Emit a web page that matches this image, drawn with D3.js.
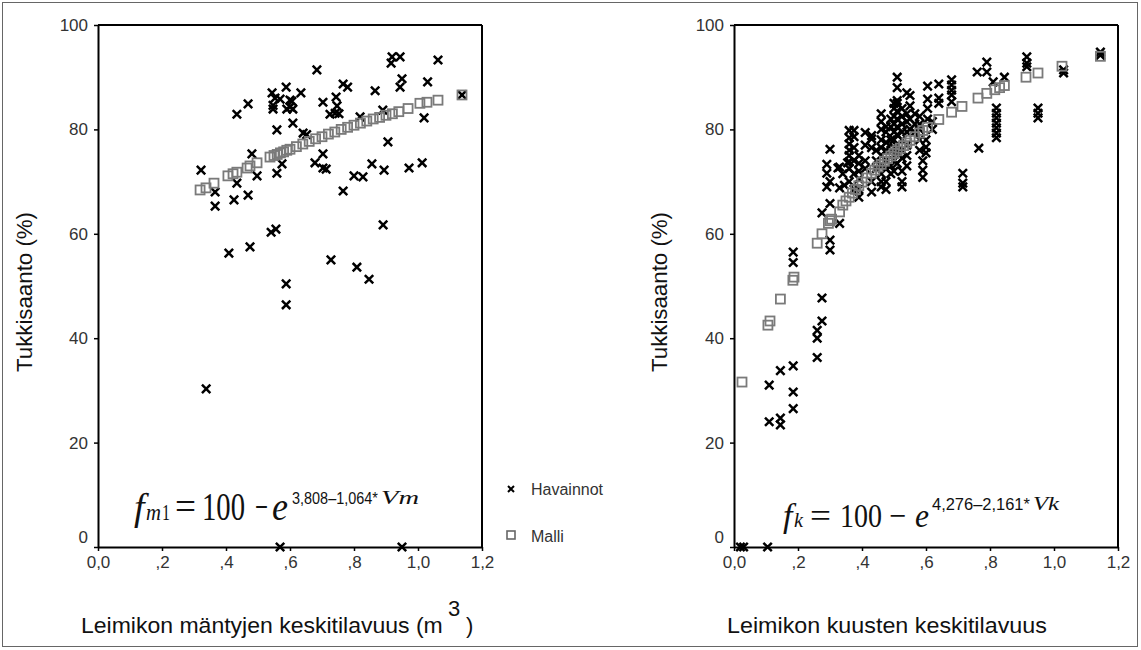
<!DOCTYPE html>
<html><head><meta charset="utf-8">
<script src="https://cdn.jsdelivr.net/npm/d3@7"></script>
<style>body{margin:0;background:#fff}</style></head>
<body><svg id="c" width="1141" height="650" xmlns="http://www.w3.org/2000/svg"></svg>
<script>
const xTicks=[0,0.2,0.4,0.6,0.8,1.0,1.2];
const xTickLabels=["0,0",",2",",4",",6",",8","1,0","1,2"];
const yTicks=[0,20,40,60,80,100];
const yTickLabels=["0","20","40","60","80","100"];
const legendLabels=["Havainnot","Malli"];
const yTitle="Tukkisaanto (%)";
const xTitleLeft="Leimikon mäntyjen keskitilavuus (m";
const xTitleRight="Leimikon kuusten keskitilavuus";

// Pine (mänty) observations [volume, yield %]
const pineObs=[
[0.919,93.9],[0.944,93.9],[0.916,92.7],[1.0625,93.3],[0.684,91.4],[0.95,89.7],[1.03,89.1],[0.944,88.1],
[0.766,88.7],[0.78,88.1],[0.866,87.4],[0.588,88.1],[0.544,87.0],[0.634,87.0],[0.553,86.0],[0.569,85.8],
[0.606,85.4],[0.703,85.2],[0.744,86.2],[0.469,84.9],[0.434,82.9],[0.547,84.6],[0.547,83.9],[0.59,83.9],
[0.609,83.9],[0.6,84.3],[0.6,85.6],[0.747,84.5],[0.753,83.0],[0.725,82.9],[0.741,83.1],[1.019,82.2],[0.609,81.2],
[0.559,79.9],[0.641,79.3],[0.652,79.0],[0.819,82.4],[0.89,83.7],[0.906,77.6],[0.481,75.3],[0.703,75.3],
[0.575,73.4],[0.678,73.6],[0.703,72.6],[0.713,72.4],[0.856,73.4],[0.894,72.2],[0.972,72.6],[1.013,73.6],
[0.8,71.1],[0.828,70.9],[0.322,72.2],[0.497,71.1],[0.559,71.6],[0.434,69.7],[0.366,68.0],[0.469,67.4],
[0.425,66.5],[0.766,68.2],[0.366,65.3],[0.541,60.3],[0.556,60.9],[0.891,61.7],[0.409,56.3],[0.475,57.5],
[0.728,55.0],[0.809,53.6],[0.847,51.3],[0.588,50.4],[0.588,46.4],[0.338,30.3],[0.569,0],[0.95,0],[1.1375,86.6]
];
// Pine model values
const pineModel=[
[0.319,68.4],[0.3375,68.8],[0.3625,69.7],[0.406,71.1],[0.422,71.5],[0.434,71.8],[0.466,72.6],[0.475,73.0],
[0.497,73.6],[0.5375,74.7],[0.55,75.0],[0.56,75.2],[0.57,75.5],[0.58,75.7],[0.59,76.0],[0.60,76.2],
[0.62,76.7],[0.64,77.2],[0.66,77.7],[0.68,78.2],[0.70,78.6],[0.72,79.1],[0.74,79.5],[0.76,80.0],
[0.78,80.4],[0.80,80.8],[0.82,81.2],[0.84,81.6],[0.86,82.0],[0.88,82.3],[0.90,82.7],[0.92,83.0],
[0.94,83.4],[0.969,84.0],[1.006,85.0],[1.028,85.2],[1.0625,85.6],[1.1375,86.6]
];
// Spruce (kuusi) observations
const spruceObs=[
[0.02,0],[0.03,0],[0.105,0],[0.11,31],[0.11,24],[0.145,24.7],[0.145,23.4],[0.145,33.8],[0.185,34.7],
[0.185,29.7],[0.185,26.5],[0.26,41.5],[0.26,40],[0.26,36.3],[0.275,47.7],[0.275,43.3],[0.185,56.5],[0.185,54.5],
[0.3,58.8],[0.3,56.9],[0.33,62],[0.275,64],[0.3,65.8],[0.29,69],[0.3,70],[0.29,71.6],[0.29,73.3],[0.3,76.2],
[0.325,72.6],[0.34,71.5],[0.33,68.8],[0.345,69.3],[0.355,73.6],[0.33,72.8],
[0.36,79.8],[0.36,78.4],[0.36,77.2],[0.36,76],[0.36,75],[0.36,73.8],[0.36,72.5],[0.36,70],
[0.375,79.8],[0.375,78.6],[0.375,76.5],[0.375,74],[0.375,71.5],[0.375,68.5],
[0.39,75],[0.39,73.5],[0.39,72],[0.39,70.5],[0.39,68.5],[0.39,67],
[0.41,79.4],[0.41,77],[0.41,74],[0.41,72.5],
[0.43,78.8],[0.43,78.2],[0.43,76.5],[0.43,70],[0.43,68],
[0.445,76],[0.445,74],[0.445,72.5],
[0.46,83],[0.46,81.5],[0.46,80],[0.46,78],[0.46,76.5],[0.46,75],[0.46,73],[0.46,71.5],[0.46,70],[0.46,69],
[0.475,80.5],[0.475,79.5],[0.475,77.5],[0.475,76],[0.475,74],[0.475,72.5],[0.475,70],[0.475,68.5],
[0.49,82],[0.49,80.5],[0.49,78],[0.49,76],[0.49,73],[0.49,71.5],
[0.5,85],[0.5,84],[0.5,82.5],[0.5,81],[0.5,79.5],[0.5,78],[0.5,76.5],[0.5,74],[0.5,72],
[0.51,90],[0.51,88],[0.51,85.5],[0.51,85],[0.51,83.5],[0.51,82],[0.51,80.5],[0.51,79],[0.51,77],[0.51,75.5],[0.51,73.5],
[0.525,84],[0.525,82.5],[0.525,81],[0.525,79.5],[0.525,78],[0.525,76],[0.525,74.5],[0.525,72],[0.525,70],[0.525,69],
[0.54,87],[0.54,83],[0.54,81.5],[0.54,79.5],[0.54,77],[0.54,75],[0.54,73],
[0.55,86.5],[0.55,84.5],[0.55,82],[0.55,80],
[0.565,83],[0.565,81],[0.565,79.5],
[0.58,82.5],[0.58,81],[0.58,80],[0.58,78],[0.58,76],
[0.59,74],[0.59,72.2],[0.59,70.8],[0.6,78],[0.6,76.6],[0.6,75.5],
[0.605,88.3],[0.605,85.8],[0.605,84],[0.605,82],[0.62,81.5],[0.62,80],
[0.64,88.7],[0.64,86],[0.64,85],
[0.68,89.5],[0.68,88.5],[0.68,87.5],[0.68,86.6],[0.68,85.3],
[0.715,71.6],[0.715,69.7],[0.715,69],[0.765,76.4],
[0.76,91],[0.79,91],[0.79,92.9],[0.81,89.1],[0.845,90],
[0.82,84.1],[0.82,83.1],[0.82,82.2],[0.82,81.2],[0.82,80.3],[0.82,79.3],[0.82,78.4],
[0.915,93.9],[0.915,92.7],[0.915,92.0],[0.95,84.1],[0.95,83.1],[0.95,82.2],
[1.03,90.8],[1.03,91.4],[1.145,94.8],[1.145,94.2]
];
// Spruce model values
const spruceModel=[
[0.025,31.6],[0.106,42.5],[0.1125,43.3],[0.145,47.5],[0.184,51.1],[0.1875,51.7],[0.26,58.2],[0.275,60],
[0.295,62],[0.3,62.5],[0.305,62.8],[0.33,64.2],[0.34,65.5],[0.35,66.3],[0.36,67],[0.37,67.8],[0.38,68.5],
[0.39,69.2],[0.4,69.9],[0.415,70.7],[0.43,71.6],[0.44,72.2],[0.45,72.8],[0.46,73.3],[0.47,73.9],[0.48,74.4],
[0.49,74.9],[0.5,75.4],[0.51,75.9],[0.52,76.4],[0.53,76.9],[0.54,77.4],[0.55,77.9],[0.565,78.6],[0.58,79.3],
[0.59,79.8],[0.605,80.4],[0.64,81.9],[0.68,83.3],[0.7125,84.4],[0.7625,86],[0.79,86.9],[0.815,87.6],
[0.83,88],[0.845,88.4],[0.9125,90],[0.95,90.8],[1.025,92.1],[1.145,94]
];

const svg=d3.select("#c");
const SANS="'Liberation Sans', Arial, sans-serif";
const SERIF="'Liberation Serif', 'Times New Roman', serif";
svg.append("rect").attr("x",2.5).attr("y",2.5).attr("width",1135).attr("height",644)
  .attr("fill","#fff").attr("stroke","#666").attr("stroke-width",1);

const crossPath="M-4.2,-4.2L4.2,4.2M-4.2,4.2L4.2,-4.2";

function panel(x0,x1,obs,model){
  const x=d3.scaleLinear().domain([0,1.2]).range([x0,x1]);
  const y=d3.scaleLinear().domain([0,100]).range([547,25]);
  const g=svg.append("g");
  g.append("line").attr("x1",x0).attr("x2",x1).attr("y1",y(100)).attr("y2",y(100)).attr("stroke","#000").attr("stroke-width",2);
  g.append("line").attr("x1",x1).attr("x2",x1).attr("y1",y(100)).attr("y2",y(0)).attr("stroke","#000").attr("stroke-width",2);
  const ya=g.append("g").attr("transform",`translate(${x0},0)`)
    .call(d3.axisLeft(y).tickValues(yTicks).tickFormat((d,i)=>yTickLabels[i]).tickSize(4).tickSizeOuter(0).tickPadding(6));
  const xa=g.append("g").attr("transform",`translate(0,${y(0)})`)
    .call(d3.axisBottom(x).tickValues(xTicks).tickFormat((d,i)=>xTickLabels[i]).tickSize(4).tickSizeOuter(0).tickPadding(5));
  [ya,xa].forEach(a=>{
    a.select(".domain").attr("stroke","#000").attr("stroke-width",2);
    a.selectAll(".tick line").attr("stroke","#000").attr("stroke-width",1.5);
    a.selectAll(".tick text").attr("font-family",SANS).attr("font-size",17).attr("fill","#333");
  });
  ya.selectAll(".tick text").filter(d=>d===0).attr("dy","-0.25em");
  g.append("g").selectAll("path").data(obs).join("path")
    .attr("d",crossPath).attr("transform",d=>`translate(${x(d[0])},${y(d[1])})`)
    .attr("stroke","#000").attr("stroke-width",2.5).attr("fill","none");
  g.append("g").selectAll("rect").data(model).join("rect")
    .attr("x",d=>x(d[0])-4.5).attr("y",d=>y(d[1])-4.5).attr("width",9).attr("height",9)
    .attr("fill","none").attr("stroke","#7a7a7a").attr("stroke-width",1.8);
  return {x,y};
}
panel(98,482,pineObs,pineModel);
panel(734,1118,spruceObs,spruceModel);

// y titles
[[32,292],[667,292]].forEach(([cx,cy])=>{
  svg.append("text").attr("transform",`translate(${cx},${cy}) rotate(-90)`)
    .attr("text-anchor","middle").attr("font-family",SANS).attr("font-size",22).attr("fill","#111")
    .attr("textLength",160).attr("lengthAdjust","spacingAndGlyphs").text(yTitle);
});

// text piece squeezed/stretched horizontally to a target width using a transform
function seg(txt,x,y,size,width,italic,family){
  const t=svg.append("text").attr("x",0).attr("y",0).attr("font-family",family||SERIF).attr("font-size",size)
   .attr("fill","#111").attr("font-style",italic?"italic":"normal").text(txt);
  const w=t.node().getComputedTextLength();
  const sx=width? width/w : 1;
  t.attr("transform",`translate(${x},${y}) scale(${sx},1)`);
  return t;
}
// x titles
seg(xTitleLeft,81,633,22,362,false,SANS);
seg("3",448,616,22,null,false,SANS);
seg(")",466,633,22,null,false,SANS);
seg(xTitleRight,727,633,22,320,false,SANS);

// legend
const lg=svg.append("g");
lg.append("path").attr("d","M-3,-3L3,3M-3,3L3,-3").attr("transform","translate(511,489)").attr("stroke","#000").attr("stroke-width",2);
lg.append("rect").attr("x",507).attr("y",531).attr("width",8).attr("height",8).attr("fill","none").attr("stroke","#666").attr("stroke-width",1.6);
lg.append("text").attr("x",531).attr("y",495).attr("font-family",SANS).attr("font-size",16).attr("fill","#333").text(legendLabels[0]);
lg.append("text").attr("x",531).attr("y",542).attr("font-family",SANS).attr("font-size",16).attr("fill","#333").text(legendLabels[1]);

// formulas
// left: f_m1 = 100 - e^{3,808-1,064*Vm}
seg("f",134,520,38,null,true);
seg("m",146,520,24,15,true);
seg("1",162,520,24,8,false);
seg("=",175,520,40,21,false);
seg("100",202,520,40,43,false);
seg("\u2212",255,520,40,13,false);
seg("e",272,520,40,16,true);
seg("3,808\u20131,064*",292,504,17,86,false,SANS);
seg("Vm",381,504,19,38,true);
// right: f_k = 100 - e^{4,276-2,161*Vk}
seg("f",783,527,34,null,true);
seg("k",794,527,22,9,true);
seg("=",810,527,34,21,false);
seg("100",840,527,34,42,false);
seg("\u2212",889,527,34,17,false);
seg("e",915,527,34,14,true);
seg("4,276\u20132,161*",932,510,17,98,false,SANS);
seg("Vk",1033,510,19,26,true);
</script></body></html>
